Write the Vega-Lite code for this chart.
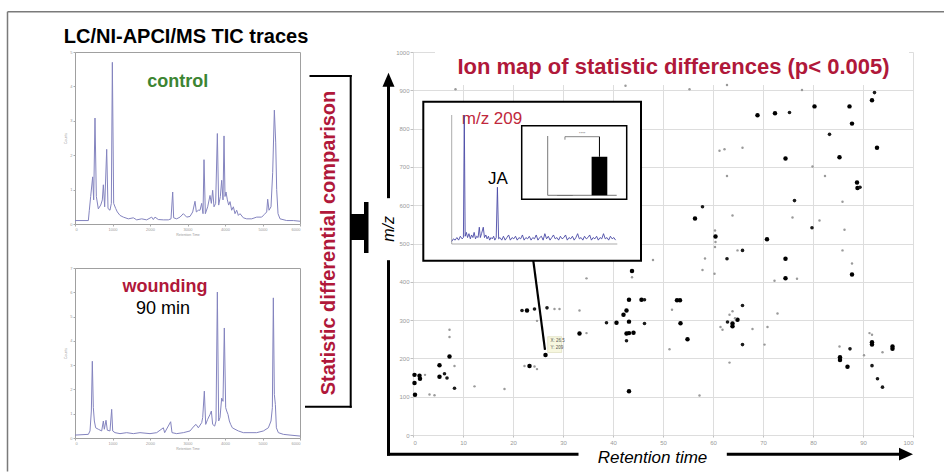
{
  "$schema": "https://vega.github.io/schema/vega-lite/v6.json",
  "padding": 0,
  "background": "white",
  "config": {"view": {"stroke": null}, "font": "Liberation Sans"},
  "spacing": 338,
  "bounds": "flush",
  "hconcat": [
    {
      "spacing": 44,
      "bounds": "flush",
      "vconcat": [
        {
          "width": 225,
          "height": 172,
          "view": {"stroke": "#a0a0a0", "strokeWidth": 1},
          "encoding": {
            "x": {"field": "t", "type": "quantitative", "scale": {"domain": [0, 6000], "nice": false, "zero": false},
              "axis": {"values": [0, 1000, 2000, 3000, 4000, 5000, 6000], "format": "d", "labelFontSize": 4, "labelColor": "#9a9a9a", "tickColor": "#aaaaaa", "tickSize": 2, "domain": false, "grid": false, "title": "Retention Time", "titleFontSize": 3.5, "titleColor": "#9a9a9a", "titleFontWeight": "normal", "titlePadding": 1, "labelPadding": 1}},
            "y": {"field": "v", "type": "quantitative", "scale": {"domain": [0, 5], "nice": false, "zero": false},
              "axis": {"values": [0, 1, 2, 3, 4, 5], "labelFontSize": 4, "labelColor": "#9a9a9a", "tickColor": "#aaaaaa", "tickSize": 2, "domain": false, "grid": false, "title": "Counts", "titleFontSize": 3.5, "titleColor": "#9a9a9a", "titleFontWeight": "normal", "titlePadding": 2, "labelPadding": 1}}
          },
          "layer": [
            {
              "data": {"values": [
                {"t":0,"v":0.1},{"t":356,"v":0.1},{"t":382,"v":0.4},{"t":418,"v":0.8},{"t":471,"v":1.37},{"t":498,"v":0.7},{"t":533,"v":3.08},{"t":569,"v":0.8},{"t":622,"v":0.44},{"t":685,"v":0.55},{"t":729,"v":0.7},{"t":756,"v":1.14},{"t":791,"v":0.5},{"t":845,"v":2.17},{"t":880,"v":0.45},{"t":933,"v":0.4},{"t":969,"v":0.6},{"t":996,"v":4.7},{"t":1031,"v":0.6},{"t":1085,"v":0.45},{"t":1129,"v":0.35},{"t":1200,"v":0.25},{"t":1289,"v":0.2},{"t":1422,"v":0.15},{"t":1556,"v":0.18},{"t":1645,"v":0.12},{"t":1778,"v":0.15},{"t":1911,"v":0.12},{"t":2045,"v":0.2},{"t":2089,"v":0.13},{"t":2134,"v":0.2},{"t":2222,"v":0.13},{"t":2356,"v":0.12},{"t":2489,"v":0.12},{"t":2560,"v":0.15},{"t":2605,"v":0.93},{"t":2631,"v":0.18},{"t":2711,"v":0.15},{"t":2800,"v":0.2},{"t":2889,"v":0.3},{"t":2978,"v":0.2},{"t":3067,"v":0.22},{"t":3138,"v":0.35},{"t":3200,"v":0.66},{"t":3236,"v":0.35},{"t":3289,"v":0.4},{"t":3334,"v":0.4},{"t":3378,"v":0.6},{"t":3414,"v":0.3},{"t":3440,"v":1.87},{"t":3476,"v":0.3},{"t":3538,"v":0.5},{"t":3600,"v":0.83},{"t":3636,"v":0.6},{"t":3671,"v":0.98},{"t":3707,"v":0.5},{"t":3751,"v":0.6},{"t":3796,"v":2.63},{"t":3831,"v":0.55},{"t":3876,"v":0.8},{"t":3911,"v":1.27},{"t":3947,"v":0.7},{"t":3974,"v":2.56},{"t":4000,"v":0.8},{"t":4027,"v":0.93},{"t":4063,"v":0.7},{"t":4098,"v":0.55},{"t":4134,"v":0.65},{"t":4178,"v":0.4},{"t":4223,"v":0.5},{"t":4267,"v":0.3},{"t":4312,"v":0.4},{"t":4356,"v":0.25},{"t":4400,"v":0.3},{"t":4489,"v":0.18},{"t":4578,"v":0.15},{"t":4712,"v":0.15},{"t":4845,"v":0.2},{"t":4978,"v":0.2},{"t":5050,"v":0.28},{"t":5112,"v":0.35},{"t":5138,"v":0.72},{"t":5174,"v":0.4},{"t":5227,"v":0.5},{"t":5272,"v":1.5},{"t":5316,"v":3.31},{"t":5352,"v":2.38},{"t":5378,"v":1.0},{"t":5414,"v":0.3},{"t":5467,"v":0.15},{"t":5645,"v":0.1},{"t":5823,"v":0.1},{"t":6000,"v":0.08}
              ]},
              "mark": {"type": "line", "color": "#8484bf", "strokeWidth": 1, "clip": false}
            },
            {
              "data": {"values": [{"t": 2739, "v": 3.97, "label": "control"}]},
              "mark": {"type": "text", "fontSize": 18, "fontWeight": "bold", "color": "#3c8532", "align": "center", "baseline": "alphabetic", "clip": false},
              "encoding": {"text": {"field": "label"}}
            },
            {
              "data": {"values": [{"t": 2960, "v": 5.26, "label": "LC/NI-APCI/MS TIC traces"}]},
              "mark": {"type": "text", "fontSize": 20, "fontWeight": "bold", "color": "#000000", "align": "center", "baseline": "alphabetic", "clip": false},
              "encoding": {"text": {"field": "label"}}
            }
          ]
        },
        {
          "width": 225,
          "height": 170,
          "view": {"stroke": "#a0a0a0", "strokeWidth": 1},
          "encoding": {
            "x": {"field": "t", "type": "quantitative", "scale": {"domain": [0, 6000], "nice": false, "zero": false},
              "axis": {"values": [0, 1000, 2000, 3000, 4000, 5000, 6000], "format": "d", "labelFontSize": 4, "labelColor": "#9a9a9a", "tickColor": "#aaaaaa", "tickSize": 2, "domain": false, "grid": false, "title": "Retention Time", "titleFontSize": 3.5, "titleColor": "#9a9a9a", "titleFontWeight": "normal", "titlePadding": 1, "labelPadding": 1}},
            "y": {"field": "v", "type": "quantitative", "scale": {"domain": [0, 7], "nice": false, "zero": false},
              "axis": {"values": [0, 1, 2, 3, 4, 5, 6, 7], "labelFontSize": 4, "labelColor": "#9a9a9a", "tickColor": "#aaaaaa", "tickSize": 2, "domain": false, "grid": false, "title": "Counts", "titleFontSize": 3.5, "titleColor": "#9a9a9a", "titleFontWeight": "normal", "titlePadding": 2, "labelPadding": 1}}
          },
          "layer": [
            {
              "data": {"values": [
                {"t":0,"v":0.12},{"t":356,"v":0.15},{"t":400,"v":0.29},{"t":436,"v":1.11},{"t":462,"v":3.16},{"t":489,"v":1.25},{"t":516,"v":0.7},{"t":551,"v":0.42},{"t":622,"v":0.36},{"t":711,"v":0.29},{"t":756,"v":0.7},{"t":782,"v":0.36},{"t":827,"v":0.73},{"t":862,"v":0.32},{"t":933,"v":0.29},{"t":978,"v":1.18},{"t":1005,"v":0.29},{"t":1067,"v":0.22},{"t":1200,"v":0.18},{"t":1378,"v":0.22},{"t":1556,"v":0.18},{"t":1733,"v":0.22},{"t":2000,"v":0.18},{"t":2178,"v":0.22},{"t":2356,"v":0.42},{"t":2391,"v":0.22},{"t":2551,"v":0.67},{"t":2587,"v":0.22},{"t":2711,"v":0.18},{"t":2889,"v":0.22},{"t":3067,"v":0.29},{"t":3174,"v":0.49},{"t":3227,"v":0.56},{"t":3289,"v":0.42},{"t":3378,"v":0.63},{"t":3405,"v":0.84},{"t":3449,"v":1.93},{"t":3485,"v":0.56},{"t":3538,"v":0.77},{"t":3600,"v":0.97},{"t":3636,"v":1.11},{"t":3671,"v":0.56},{"t":3725,"v":0.49},{"t":3760,"v":0.7},{"t":3796,"v":6.01},{"t":3831,"v":0.7},{"t":3867,"v":0.84},{"t":3911,"v":1.64},{"t":3947,"v":1.51},{"t":3982,"v":4.53},{"t":4018,"v":1.25},{"t":4045,"v":1.11},{"t":4080,"v":0.97},{"t":4116,"v":0.7},{"t":4151,"v":0.56},{"t":4196,"v":0.42},{"t":4267,"v":0.36},{"t":4356,"v":0.29},{"t":4489,"v":0.22},{"t":4667,"v":0.22},{"t":4845,"v":0.22},{"t":5023,"v":0.29},{"t":5156,"v":0.42},{"t":5227,"v":0.7},{"t":5263,"v":1.25},{"t":5289,"v":5.77},{"t":5316,"v":1.79},{"t":5343,"v":1.38},{"t":5370,"v":0.42},{"t":5423,"v":0.22},{"t":5556,"v":0.15},{"t":5734,"v":0.12},{"t":6000,"v":0.08}
              ]},
              "mark": {"type": "line", "color": "#8484bf", "strokeWidth": 1, "clip": false}
            },
            {
              "data": {"values": [{"t": 2400, "v": 6.01, "label": "wounding"}]},
              "mark": {"type": "text", "fontSize": 18, "fontWeight": "bold", "color": "#b0183a", "align": "center", "baseline": "alphabetic", "clip": false},
              "encoding": {"text": {"field": "label"}}
            },
            {
              "data": {"values": [{"t": 2347, "v": 5.09, "label": "90 min"}]},
              "mark": {"type": "text", "fontSize": 18, "color": "#000000", "align": "center", "baseline": "alphabetic", "clip": false},
              "encoding": {"text": {"field": "label"}}
            }
          ]
        }
      ]
    },
    {
      "width": 500,
      "height": 383,
      "resolve": {"scale": {"x": "independent", "y": "independent"}},
      "layer": [
        {
          "encoding": {
            "x": {"field": "rt", "type": "quantitative", "scale": {"domain": [0, 100], "nice": false, "zero": false},
              "axis": {"values": [0, 10, 20, 30, 40, 50, 60, 70, 80, 90, 100], "format": "d", "grid": true, "gridColor": "#dddddd", "domain": false, "labelFontSize": 6, "labelColor": "#9a9a9a", "tickColor": "#c0c0c0", "tickSize": 2, "labelPadding": 2, "title": null}},
            "y": {"field": "mz", "type": "quantitative", "scale": {"domain": [0, 1000], "nice": false, "zero": false},
              "axis": {"values": [0, 100, 200, 300, 400, 500, 600, 700, 800, 900, 1000], "format": "d", "grid": true, "gridColor": "#dddddd", "domain": false, "labelFontSize": 6, "labelColor": "#9a9a9a", "tickColor": "#c0c0c0", "tickSize": 3, "labelPadding": 1, "title": null}}
          },
          "layer": [
            {
              "data": {"values": [{"rt": -82.6, "mz": -95.3, "rt2": 106.3, "mz2": 1135.77}]},
              "mark": {"type": "rect", "fill": "#ffffff", "opacity": 0, "clip": false},
              "encoding": {"x2": {"field": "rt2"}, "y2": {"field": "mz2"}}
            },
            {
              "data": {"values": [{"rt": 4.4, "mz": 913.8, "rt2": 99.2, "mz2": 1020}]},
              "mark": {"type": "rect", "fill": "#ffffff", "clip": false},
              "encoding": {"x2": {"field": "rt2"}, "y2": {"field": "mz2"}}
            },
            {
              "data": {"values": [
                {"rt":0.3,"mz":157,"k":"B"},{"rt":0.3,"mz":136,"k":"B"},{"rt":0.4,"mz":105,"k":"B"},{"rt":1.3,"mz":155,"k":"B"},{"rt":1.4,"mz":147,"k":"B"},{"rt":5.3,"mz":182,"k":"B"},{"rt":5.3,"mz":152,"k":"B"},{"rt":7.3,"mz":205,"k":"B"},{"rt":23.3,"mz":180,"k":"B"},{"rt":26.5,"mz":209,"k":"B"},{"rt":22.8,"mz":325,"k":"B"},{"rt":33.3,"mz":265,"k":"B"},{"rt":40.7,"mz":293,"k":"B"},{"rt":42.1,"mz":314,"k":"B"},{"rt":42.7,"mz":325,"k":"B"},{"rt":43.2,"mz":353,"k":"B"},{"rt":43.2,"mz":296,"k":"B"},{"rt":42.7,"mz":265,"k":"B"},{"rt":43.2,"mz":266,"k":"B"},{"rt":44.1,"mz":267,"k":"B"},{"rt":43.2,"mz":114,"k":"B"},{"rt":45.7,"mz":353,"k":"B"},{"rt":43.8,"mz":428,"k":"B"},{"rt":52.8,"mz":352,"k":"B"},{"rt":53.4,"mz":352,"k":"B"},{"rt":53.5,"mz":292,"k":"B"},{"rt":54.9,"mz":250,"k":"B"},{"rt":63.9,"mz":284,"k":"B"},{"rt":63.9,"mz":291,"k":"B"},{"rt":64.9,"mz":301,"k":"B"},{"rt":74.5,"mz":409,"k":"B"},{"rt":87.8,"mz":419,"k":"B"},{"rt":85.4,"mz":203,"k":"B"},{"rt":85.4,"mz":196,"k":"B"},{"rt":86.9,"mz":178,"k":"B"},{"rt":91.8,"mz":242,"k":"B"},{"rt":91.8,"mz":236,"k":"B"},{"rt":95.9,"mz":231,"k":"B"},{"rt":95.9,"mz":225,"k":"B"},{"rt":91.8,"mz":874,"k":"B"},{"rt":80.3,"mz":858,"k":"B"},{"rt":87.3,"mz":858,"k":"B"},{"rt":87.8,"mz":813,"k":"B"},{"rt":68.9,"mz":835,"k":"B"},{"rt":72.4,"mz":840,"k":"B"},{"rt":92.8,"mz":750,"k":"B"},{"rt":85.3,"mz":725,"k":"B"},{"rt":74.5,"mz":722,"k":"B"},{"rt":88.8,"mz":659,"k":"B"},{"rt":88.9,"mz":645,"k":"B"},{"rt":56.4,"mz":565,"k":"B"},{"rt":60.5,"mz":518,"k":"B"},{"rt":70.8,"mz":511,"k":"B"},{"rt":74.5,"mz":460,"k":"B"},
                {"rt":6.3,"mz":160,"k":"m"},{"rt":6.8,"mz":149,"k":"m"},{"rt":8.3,"mz":122,"k":"m"},{"rt":21.8,"mz":325,"k":"m"},{"rt":24.3,"mz":329,"k":"m"},{"rt":26.8,"mz":332,"k":"m"},{"rt":38.7,"mz":293,"k":"m"},{"rt":42.7,"mz":246,"k":"m"},{"rt":46.3,"mz":353,"k":"m"},{"rt":46.3,"mz":291,"k":"m"},{"rt":62.9,"mz":295,"k":"m"},{"rt":65.9,"mz":338,"k":"m"},{"rt":65.9,"mz":236,"k":"m"},{"rt":87.4,"mz":225,"k":"m"},{"rt":91.8,"mz":181,"k":"m"},{"rt":92.9,"mz":147,"k":"m"},{"rt":93.9,"mz":125,"k":"m"},{"rt":92.3,"mz":894,"k":"m"},{"rt":75.3,"mz":842,"k":"m"},{"rt":83.3,"mz":785,"k":"m"},{"rt":89.4,"mz":647,"k":"m"},{"rt":76.3,"mz":612,"k":"m"},{"rt":57.9,"mz":596,"k":"m"},{"rt":79.8,"mz":541,"k":"m"},{"rt":65.9,"mz":482,"k":"m"},{"rt":62.8,"mz":460,"k":"m"},
                {"rt":2.4,"mz":157,"k":"s"},{"rt":3.3,"mz":106,"k":"s"},{"rt":4.3,"mz":104,"k":"s"},{"rt":7.3,"mz":275,"k":"s"},{"rt":7.3,"mz":256,"k":"s"},{"rt":8.3,"mz":180,"k":"s"},{"rt":12.3,"mz":127,"k":"s"},{"rt":18.3,"mz":120,"k":"s"},{"rt":22.3,"mz":180,"k":"s"},{"rt":24.3,"mz":179,"k":"s"},{"rt":24.8,"mz":172,"k":"s"},{"rt":28.3,"mz":329,"k":"s"},{"rt":29.3,"mz":329,"k":"s"},{"rt":24.8,"mz":298,"k":"s"},{"rt":33.3,"mz":325,"k":"s"},{"rt":34.7,"mz":266,"k":"s"},{"rt":34.7,"mz":409,"k":"s"},{"rt":43.8,"mz":412,"k":"s"},{"rt":48,"mz":457,"k":"s"},{"rt":8.5,"mz":903,"k":"s"},{"rt":42.5,"mz":912,"k":"s"},{"rt":51.8,"mz":327,"k":"s"},{"rt":51.3,"mz":224,"k":"s"},{"rt":57.3,"mz":103,"k":"s"},{"rt":60.3,"mz":421,"k":"s"},{"rt":57.9,"mz":431,"k":"s"},{"rt":63.3,"mz":314,"k":"s"},{"rt":63.9,"mz":323,"k":"s"},{"rt":64.4,"mz":305,"k":"s"},{"rt":61.5,"mz":282,"k":"s"},{"rt":61.9,"mz":275,"k":"s"},{"rt":63.3,"mz":189,"k":"s"},{"rt":67.9,"mz":277,"k":"s"},{"rt":70.9,"mz":282,"k":"s"},{"rt":70.3,"mz":236,"k":"s"},{"rt":72.9,"mz":317,"k":"s"},{"rt":72.3,"mz":403,"k":"s"},{"rt":76.8,"mz":408,"k":"s"},{"rt":87.8,"mz":448,"k":"s"},{"rt":85.3,"mz":231,"k":"s"},{"rt":91.3,"mz":266,"k":"s"},{"rt":91.8,"mz":262,"k":"s"},{"rt":90.2,"mz":208,"k":"s"},{"rt":93.9,"mz":216,"k":"s"},{"rt":55.3,"mz":903,"k":"s"},{"rt":62.8,"mz":914,"k":"s"},{"rt":77.8,"mz":901,"k":"s"},{"rt":61.3,"mz":742,"k":"s"},{"rt":62.3,"mz":746,"k":"s"},{"rt":65.9,"mz":750,"k":"s"},{"rt":62.8,"mz":676,"k":"s"},{"rt":79.9,"mz":701,"k":"s"},{"rt":82.4,"mz":676,"k":"s"},{"rt":85.9,"mz":609,"k":"s"},{"rt":63.9,"mz":573,"k":"s"},{"rt":75.9,"mz":568,"k":"s"},{"rt":81.3,"mz":560,"k":"s"},{"rt":86.3,"mz":536,"k":"s"},{"rt":60.4,"mz":534,"k":"s"},{"rt":60.5,"mz":504,"k":"s"},{"rt":60.4,"mz":491,"k":"s"},{"rt":64.9,"mz":482,"k":"s"},{"rt":58.4,"mz":461,"k":"s"},{"rt":85.9,"mz":482,"k":"s"}
              ]},
              "mark": {"type": "circle", "opacity": 1, "clip": false},
              "encoding": {
                "size": {"field": "k", "type": "nominal", "scale": {"domain": ["s", "m", "B"], "range": [6, 20, 58]}, "legend": null},
                "color": {"field": "k", "type": "nominal", "scale": {"domain": ["s", "m", "B"], "range": ["#9a9a9a", "#1a1a1a", "#000000"]}, "legend": null}
              }
            },
            {
              "data": {"values": [{"rt": 52.1, "mz": 941.8, "label": "Ion map of statistic differences (p< 0.005)"}]},
              "mark": {"type": "text", "fontSize": 22, "fontWeight": "bold", "color": "#b0183a", "align": "center", "baseline": "alphabetic", "clip": false},
              "encoding": {"text": {"field": "label"}}
            },
            {
              "data": {"values": [
                {"rt": -4.9, "mz": -50, "rt2": -4.9, "mz2": 452.5},
                {"rt": -4.9, "mz": 622.2, "rt2": -4.9, "mz2": 912},
                {"rt": -4.9, "mz": -50, "rt2": 32.8, "mz2": -50},
                {"rt": 63.06, "mz": -50, "rt2": 97.4, "mz2": -50}
              ]},
              "mark": {"type": "rule", "color": "#000000", "strokeWidth": 3, "strokeCap": "square", "clip": false},
              "encoding": {"x2": {"field": "rt2"}, "y2": {"field": "mz2"}}
            },
            {
              "data": {"values": [{"rt": -4.9, "mz": 927.7}]},
              "mark": {"type": "point", "shape": "M0,-1L0.857,1L-0.857,1Z", "size": 196, "filled": true, "color": "#000000", "opacity": 1, "clip": false}
            },
            {
              "data": {"values": [{"rt": 98.6, "mz": -50}]},
              "mark": {"type": "point", "shape": "M1,0L-1,0.9L-1,-0.9Z", "size": 196, "filled": true, "color": "#000000", "opacity": 1, "clip": false}
            },
            {
              "data": {"values": [
                {"rt": -20.5, "mz": 937.3, "rt2": -12.46, "mz2": 937.3},
                {"rt": -12.46, "mz": 937.3, "rt2": -12.46, "mz2": 73.9},
                {"rt": -21.4, "mz": 73.9, "rt2": -12.46, "mz2": 73.9}
              ]},
              "mark": {"type": "rule", "color": "#000000", "strokeWidth": 2, "strokeCap": "square", "clip": false},
              "encoding": {"x2": {"field": "rt2"}, "y2": {"field": "mz2"}}
            },
            {
              "data": {"values": [{"rt": -16.8, "mz": 501.3, "label": "Statistic  differential  comparison"}]},
              "mark": {"type": "text", "fontSize": 20, "fontWeight": "bold", "color": "#b0183a", "align": "center", "baseline": "middle", "angle": 270, "clip": false},
              "encoding": {"text": {"field": "label"}}
            },
            {
              "data": {"values": [
                {"rt": -12.6, "mz": 509.1, "rt2": -9.8, "mz2": 577},
                {"rt": -9.8, "mz": 475.2, "rt2": -8.9, "mz2": 608.4}
              ]},
              "mark": {"type": "rect", "fill": "#000000", "clip": false},
              "encoding": {"x2": {"field": "rt2"}, "y2": {"field": "mz2"}}
            },
            {
              "data": {"values": [{"rt": -4.8, "mz": 537.9, "label": "m/z"}]},
              "mark": {"type": "text", "fontSize": 16, "fontStyle": "italic", "color": "#000000", "align": "center", "baseline": "middle", "angle": 270, "clip": false},
              "encoding": {"text": {"field": "label"}}
            },
            {
              "data": {"values": [{"rt": 47.9, "mz": -73.9, "label": "Retention time"}]},
              "mark": {"type": "text", "fontSize": 17, "fontStyle": "italic", "color": "#000000", "align": "center", "baseline": "alphabetic", "clip": false},
              "encoding": {"text": {"field": "label"}}
            },
            {
              "data": {"values": [
                {"rt": -81.1, "mz": 1105.2, "rt2": 106.2, "mz2": 1105.2},
                {"rt": -81.1, "mz": 1105.2, "rt2": -81.1, "mz2": -95}
              ]},
              "mark": {"type": "rule", "color": "#7a7a7a", "strokeWidth": 1.5, "clip": false},
              "encoding": {"x2": {"field": "rt2"}, "y2": {"field": "mz2"}}
            },
            {
              "data": {"values": [{"rt": 2.06, "mz": 455.1, "rt2": 45.6, "mz2": 870.2}]},
              "mark": {"type": "rect", "fill": "#ffffff", "stroke": "#000000", "strokeWidth": 2, "clip": false},
              "encoding": {"x2": {"field": "rt2"}, "y2": {"field": "mz2"}}
            },
            {
              "data": {"values": [{"rt": 21.74, "mz": 615.4, "rt2": 42.74, "mz2": 807.6}]},
              "mark": {"type": "rect", "fill": "#ffffff", "stroke": "#000000", "strokeWidth": 1.5, "clip": false},
              "encoding": {"x2": {"field": "rt2"}, "y2": {"field": "mz2"}}
            },
            {
              "data": {"values": [{"rt": 15.8, "mz": 811.2, "label": "m/z 209"}]},
              "mark": {"type": "text", "fontSize": 17, "color": "#c0283c", "align": "center", "baseline": "alphabetic", "clip": false},
              "encoding": {"text": {"field": "label"}}
            },
            {
              "data": {"values": [{"rt": 17.0, "mz": 654.6, "label": "JA"}]},
              "mark": {"type": "text", "fontSize": 17, "color": "#000000", "align": "center", "baseline": "alphabetic", "clip": false},
              "encoding": {"text": {"field": "label"}}
            },
            {
              "data": {"values": [{"rt": 24.06, "mz": 455.1, "rt2": 26.4, "mz2": 222}]},
              "mark": {"type": "rule", "color": "#000000", "strokeWidth": 2.2, "clip": false},
              "encoding": {"x2": {"field": "rt2"}, "y2": {"field": "mz2"}}
            },
            {
              "data": {"values": [{"rt": 26.94, "mz": 215.4, "rt2": 29.74, "mz2": 256.7}]},
              "mark": {"type": "rect", "fill": "#f7f7df", "stroke": "#d2d2aa", "strokeWidth": 0.5, "clip": false},
              "encoding": {"x2": {"field": "rt2"}, "y2": {"field": "mz2"}}
            },
            {
              "data": {"values": [{"rt": 27.5, "mz": 243, "label": "X: 26.5"}, {"rt": 27.5, "mz": 224, "label": "Y: 209"}]},
              "mark": {"type": "text", "fontSize": 4.5, "color": "#555555", "align": "left", "baseline": "alphabetic", "clip": false},
              "encoding": {"text": {"field": "label"}}
            }
          ]
        },
        {
          "encoding": {
            "x": {"field": "t", "type": "quantitative", "scale": {"domain": [0, 96], "range": [38.7, 204.3], "nice": false, "zero": false}, "axis": null},
            "y": {"field": "v", "type": "quantitative", "scale": {"domain": [0, 1], "range": [192, 63], "nice": false, "zero": false}, "axis": null}
          },
          "layer": [
            {
              "data": {"values": [{"t": 0, "v": 0, "t2": 0, "v2": 1}, {"t": 0, "v": 0, "t2": 96, "v2": 0}]},
              "mark": {"type": "rule", "color": "#888888", "strokeWidth": 0.7, "clip": false},
              "encoding": {"x2": {"field": "t2"}, "y2": {"field": "v2"}}
            },
            {
              "data": {"values": [
                {"t":0,"v":0.02},{"t":1,"v":0.04},{"t":2,"v":0.03},{"t":3,"v":0.05},{"t":4,"v":0.03},{"t":5,"v":0.06},{"t":6,"v":0.04},{"t":6.8,"v":0.05},{"t":7.3,"v":1.0},{"t":7.8,"v":0.06},{"t":8.5,"v":0.09},{"t":9.2,"v":0.05},{"t":10,"v":0.08},{"t":10.8,"v":0.04},{"t":11.5,"v":0.07},{"t":12.3,"v":0.05},{"t":13,"v":0.09},{"t":13.8,"v":0.04},{"t":14.5,"v":0.06},{"t":15.3,"v":0.05},{"t":16,"v":0.13},{"t":16.6,"v":0.05},{"t":17.3,"v":0.08},{"t":18.3,"v":0.13},{"t":19,"v":0.05},{"t":19.8,"v":0.07},{"t":20.5,"v":0.04},{"t":21.3,"v":0.06},{"t":22,"v":0.03},{"t":22.8,"v":0.05},{"t":23.5,"v":0.04},{"t":24.3,"v":0.06},{"t":25,"v":0.03},{"t":25.8,"v":0.05},{"t":26.5,"v":0.44},{"t":27.2,"v":0.04},{"t":28,"v":0.05},{"t":29,"v":0.03},{"t":30,"v":0.06},{"t":31,"v":0.03},{"t":32,"v":0.05},{"t":33,"v":0.07},{"t":34,"v":0.03},{"t":35,"v":0.05},{"t":36,"v":0.04},{"t":37,"v":0.06},{"t":38,"v":0.03},{"t":39,"v":0.05},{"t":40,"v":0.04},{"t":41,"v":0.07},{"t":42,"v":0.03},{"t":43,"v":0.05},{"t":44,"v":0.04},{"t":45,"v":0.06},{"t":46,"v":0.03},{"t":47,"v":0.05},{"t":48,"v":0.04},{"t":49,"v":0.07},{"t":50,"v":0.03},{"t":51,"v":0.05},{"t":52,"v":0.06},{"t":53,"v":0.03},{"t":54,"v":0.08},{"t":55,"v":0.04},{"t":56,"v":0.06},{"t":57,"v":0.03},{"t":58,"v":0.05},{"t":59,"v":0.07},{"t":60,"v":0.04},{"t":61,"v":0.05},{"t":62,"v":0.03},{"t":63,"v":0.06},{"t":64,"v":0.04},{"t":65,"v":0.05},{"t":66,"v":0.07},{"t":67,"v":0.03},{"t":68,"v":0.05},{"t":69,"v":0.04},{"t":70,"v":0.06},{"t":71,"v":0.03},{"t":72,"v":0.05},{"t":73,"v":0.08},{"t":74,"v":0.04},{"t":75,"v":0.05},{"t":76,"v":0.03},{"t":77,"v":0.06},{"t":78,"v":0.04},{"t":79,"v":0.05},{"t":80,"v":0.07},{"t":81,"v":0.03},{"t":82,"v":0.05},{"t":83,"v":0.04},{"t":84,"v":0.06},{"t":85,"v":0.03},{"t":86,"v":0.05},{"t":87,"v":0.04},{"t":88,"v":0.08},{"t":89,"v":0.04},{"t":90,"v":0.05},{"t":91,"v":0.03},{"t":92,"v":0.06},{"t":93,"v":0.04},{"t":94,"v":0.05},{"t":95,"v":0.03}
              ]},
              "mark": {"type": "line", "color": "#4a4aa6", "strokeWidth": 0.9, "clip": false}
            }
          ]
        },
        {
          "encoding": {
            "x": {"field": "pos", "type": "quantitative", "scale": {"domain": [0, 4], "range": [129.7, 208.7], "nice": false, "zero": false}, "axis": null},
            "y": {"field": "val", "type": "quantitative", "scale": {"domain": [0, 120000], "range": [143.3, 84], "nice": false, "zero": true}, "axis": null}
          },
          "layer": [
            {
              "data": {"values": [{"pos": 0, "val": 0, "pos2": 0, "val2": 120000}, {"pos": 0, "val": 0, "pos2": 4, "val2": 0}]},
              "mark": {"type": "rule", "color": "#555555", "strokeWidth": 0.8, "clip": false},
              "encoding": {"x2": {"field": "pos2"}, "y2": {"field": "val2"}}
            },
            {
              "data": {"values": [{"group": "control", "pos": 1, "val": 400}, {"group": "wounding", "pos": 3, "val": 78000}]},
              "mark": {"type": "bar", "size": 15.7, "color": "#000000", "orient": "vertical", "clip": false},
              "encoding": {"y": {"field": "val", "type": "quantitative", "stack": null}}
            },
            {
              "data": {"values": [{"pos": 3, "val": 78000, "val2": 118600}]},
              "mark": {"type": "rule", "color": "#000000", "strokeWidth": 1, "clip": false},
              "encoding": {"y2": {"field": "val2"}}
            },
            {
              "data": {"values": [{"pos": 1, "val": 118600, "pos2": 3, "val2": 118600}, {"pos": 1, "val": 112500, "pos2": 1, "val2": 118600}]},
              "mark": {"type": "rule", "color": "#666666", "strokeWidth": 0.8, "clip": false},
              "encoding": {"x2": {"field": "pos2"}, "y2": {"field": "val2"}}
            },
            {
              "data": {"values": [{"pos": 2, "val": 123000, "label": "****"}]},
              "mark": {"type": "text", "fontSize": 4, "color": "#666666", "align": "center", "baseline": "alphabetic", "clip": false},
              "encoding": {"text": {"field": "label"}}
            }
          ]
        }
      ]
    }
  ]
}
